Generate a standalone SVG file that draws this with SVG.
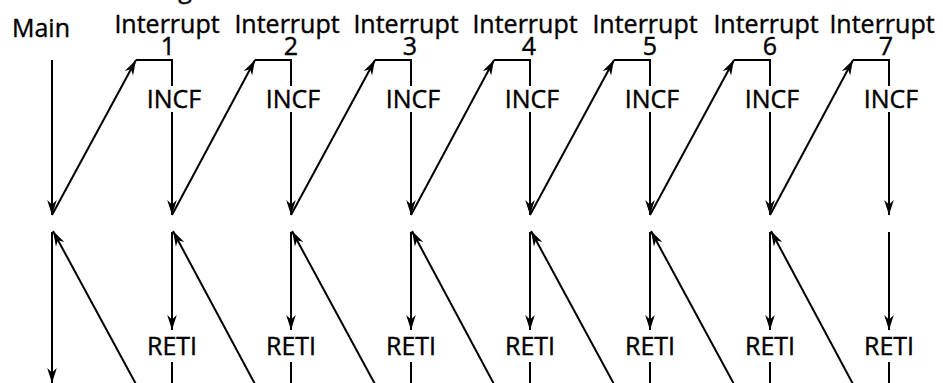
<svg xmlns="http://www.w3.org/2000/svg" width="943" height="383" viewBox="0 0 943 383">
<style>
text{font-family:"Open Sans","DejaVu Sans",sans-serif;font-size:25px;font-weight:400;fill:#000;stroke:#000;stroke-width:0.4;text-anchor:middle}
.ln{stroke:#000;stroke-width:2;fill:none}
.ar{marker-end:url(#ah)}
</style>
<defs>
<marker id="ah" markerUnits="userSpaceOnUse" markerWidth="20" markerHeight="14" viewBox="-15 -7 16 14" refX="0" refY="0" orient="auto">
<path d="M0,0 L-15,-4.8 L-10.5,0 L-15,4.8 Z" fill="#000"/>
</marker>
</defs>
<rect width="943" height="383" fill="#fff"/>
<text x="185" y="-2">g</text>
<g id="main"><text x="41" y="37">Main</text></g>
<g id="int1"><text x="167" y="33">Interrupt</text><text x="168" y="55">1</text><text x="174" y="108">INCF</text><text x="172" y="355">RETI</text></g>
<g id="int2"><text x="287" y="33">Interrupt</text><text x="291" y="55">2</text><text x="293" y="108">INCF</text><text x="291" y="355">RETI</text></g>
<g id="int3"><text x="406" y="33">Interrupt</text><text x="410" y="55">3</text><text x="413" y="108">INCF</text><text x="411" y="355">RETI</text></g>
<g id="int4"><text x="525" y="33">Interrupt</text><text x="529" y="55">4</text><text x="532" y="108">INCF</text><text x="530" y="355">RETI</text></g>
<g id="int5"><text x="645" y="33">Interrupt</text><text x="650" y="55">5</text><text x="652" y="108">INCF</text><text x="650" y="355">RETI</text></g>
<g id="int6"><text x="766" y="33">Interrupt</text><text x="770" y="55">6</text><text x="772" y="108">INCF</text><text x="770" y="355">RETI</text></g>
<g id="int7"><text x="882" y="33">Interrupt</text><text x="886" y="55">7</text><text x="891" y="108">INCF</text><text x="889" y="355">RETI</text></g>
<g id="connectors">
<path class="ln ar" d="M52,60 V215"/>
<path class="ln ar" d="M52,232 V383"/>
<path class="ln ar" d="M52,215 L136,60"/>
<path class="ln ar" d="M137,386 L53,231"/>
<path class="ln" d="M136,60 H172 V86"/>
<path class="ln ar" d="M172,112 V215"/>
<path class="ln ar" d="M172,232 V330"/>
<path class="ln" d="M172,362 V383"/>
<path class="ln ar" d="M172,215 L255,60"/>
<path class="ln ar" d="M256,386 L173,231"/>
<path class="ln" d="M255,60 H291 V86"/>
<path class="ln ar" d="M291,112 V215"/>
<path class="ln ar" d="M291,232 V330"/>
<path class="ln" d="M291,362 V383"/>
<path class="ln ar" d="M291,215 L375,60"/>
<path class="ln ar" d="M376,386 L292,231"/>
<path class="ln" d="M375,60 H411 V86"/>
<path class="ln ar" d="M411,112 V215"/>
<path class="ln ar" d="M411,232 V330"/>
<path class="ln" d="M411,362 V383"/>
<path class="ln ar" d="M411,215 L494,60"/>
<path class="ln ar" d="M495,386 L412,231"/>
<path class="ln" d="M494,60 H530 V86"/>
<path class="ln ar" d="M530,112 V215"/>
<path class="ln ar" d="M530,232 V330"/>
<path class="ln" d="M530,362 V383"/>
<path class="ln ar" d="M530,215 L614,60"/>
<path class="ln ar" d="M615,386 L531,231"/>
<path class="ln" d="M614,60 H650 V86"/>
<path class="ln ar" d="M650,112 V215"/>
<path class="ln ar" d="M650,232 V330"/>
<path class="ln" d="M650,362 V383"/>
<path class="ln ar" d="M650,215 L734,60"/>
<path class="ln ar" d="M735,386 L651,231"/>
<path class="ln" d="M734,60 H770 V86"/>
<path class="ln ar" d="M770,112 V215"/>
<path class="ln ar" d="M770,232 V330"/>
<path class="ln" d="M770,362 V383"/>
<path class="ln ar" d="M770,215 L853,60"/>
<path class="ln ar" d="M854,386 L771,231"/>
<path class="ln" d="M853,60 H889 V86"/>
<path class="ln ar" d="M889,112 V215"/>
<path class="ln ar" d="M889,232 V330"/>
<path class="ln" d="M889,362 V383"/>
</g>
</svg>
